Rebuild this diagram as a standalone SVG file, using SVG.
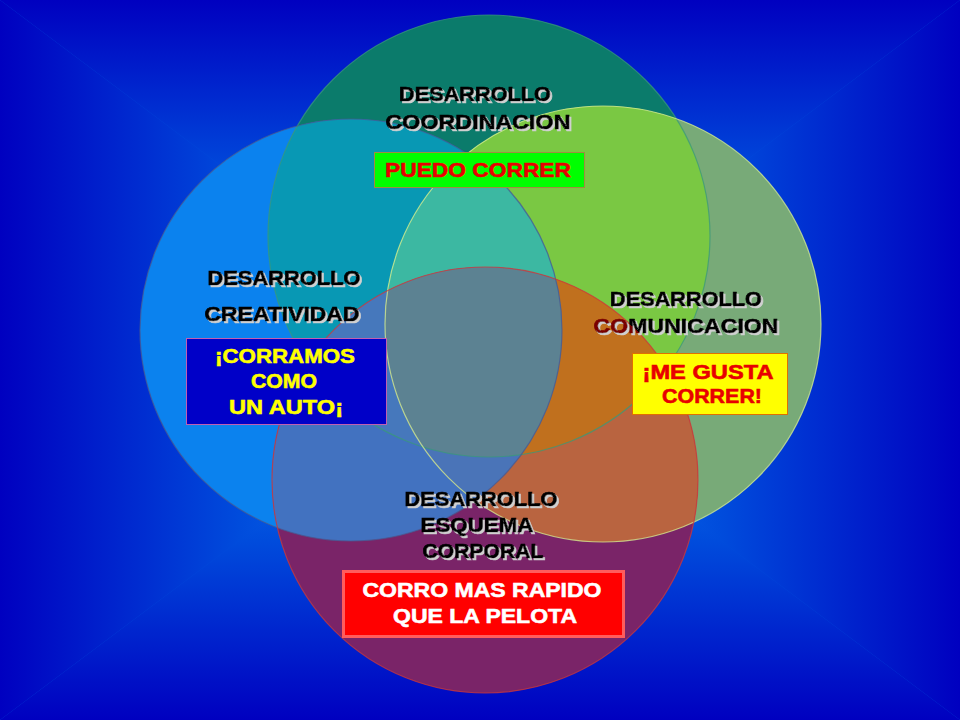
<svg xmlns="http://www.w3.org/2000/svg" width="960" height="720" viewBox="0 0 960 720">
<defs>
<style>
.lbl{font-family:"Liberation Sans",Arial,sans-serif;font-weight:bold;font-size:20.5px;fill:#000;stroke:#000;stroke-width:0.7;filter:url(#sh)}
.box{font-family:"Liberation Sans",Arial,sans-serif;font-weight:bold;font-size:21px;stroke-width:0.6}
.edge{fill:none;stroke-width:1.2;stroke-opacity:0.75}
</style>
<filter id="sh" x="-5%" y="-30%" width="115%" height="170%">
<feOffset in="SourceAlpha" dx="2" dy="2" result="o"/>
<feFlood flood-color="#d0d0d0"/>
<feComposite in2="o" operator="in" result="s"/>
<feMerge><feMergeNode in="s"/><feMergeNode in="SourceGraphic"/></feMerge>
</filter>
<linearGradient id="gTop" gradientUnits="userSpaceOnUse" x1="0" y1="0" x2="0" y2="360"><stop offset="0" stop-color="#0000c0"/><stop offset="0.5" stop-color="#004cdc"/><stop offset="1" stop-color="#1688fa"/></linearGradient>
<linearGradient id="gBot" gradientUnits="userSpaceOnUse" x1="0" y1="720" x2="0" y2="360"><stop offset="0" stop-color="#0000c0"/><stop offset="0.5" stop-color="#004cdc"/><stop offset="1" stop-color="#1688fa"/></linearGradient>
<linearGradient id="gLft" gradientUnits="userSpaceOnUse" x1="0" y1="0" x2="480" y2="0"><stop offset="0" stop-color="#0000c0"/><stop offset="0.5" stop-color="#004cdc"/><stop offset="1" stop-color="#1688fa"/></linearGradient>
<linearGradient id="gRgt" gradientUnits="userSpaceOnUse" x1="960" y1="0" x2="480" y2="0"><stop offset="0" stop-color="#0000c0"/><stop offset="0.5" stop-color="#004cdc"/><stop offset="1" stop-color="#1688fa"/></linearGradient>
<linearGradient id="gCom" gradientUnits="userSpaceOnUse" x1="617" y1="342" x2="647" y2="310"><stop offset="0.5" stop-color="#7a0000"/><stop offset="0.5" stop-color="#000"/></linearGradient>
<circle id="T" cx="489" cy="236" r="221"/>
<circle id="L" cx="351" cy="330" r="211"/>
<circle id="R" cx="603" cy="324" r="218"/>
<circle id="B" cx="485" cy="480" r="213"/>
<clipPath id="cT"><use href="#T"/></clipPath>
<clipPath id="cL"><use href="#L"/></clipPath>
<clipPath id="cR"><use href="#R"/></clipPath>
<clipPath id="cB"><use href="#B"/></clipPath>
</defs>

<g id="background">
<rect width="960" height="720" fill="#004cdc"/>
<polygon points="0,0 960,0 480,360" fill="url(#gTop)"/>
<polygon points="0,720 960,720 480,360" fill="url(#gBot)"/>
<polygon points="0,0 0,720 480,360" fill="url(#gLft)"/>
<polygon points="960,0 960,720 480,360" fill="url(#gRgt)"/>
</g>

<g id="venn">
<use href="#T" fill="#0b7b6b"/>
<use href="#L" fill="#0b82ee"/>
<use href="#R" fill="#78aa78"/>
<use href="#B" fill="#7a2468"/>
<g clip-path="url(#cT)"><use href="#L" fill="#0898b4"/></g>
<g clip-path="url(#cT)"><use href="#R" fill="#7ac843"/></g>
<g clip-path="url(#cT)"><use href="#B" fill="#6a7a80"/></g>
<g clip-path="url(#cL)"><use href="#R" fill="#3ca6b0"/></g>
<g clip-path="url(#cL)"><use href="#B" fill="#4272c0"/></g>
<g clip-path="url(#cR)"><use href="#B" fill="#b96440"/></g>
<g clip-path="url(#cT)"><g clip-path="url(#cL)"><use href="#R" fill="#3cb8a2"/></g></g>
<g clip-path="url(#cT)"><g clip-path="url(#cL)"><use href="#B" fill="#4678bc"/></g></g>
<g clip-path="url(#cT)"><g clip-path="url(#cR)"><use href="#B" fill="#c0701e"/></g></g>
<g clip-path="url(#cL)"><g clip-path="url(#cR)"><use href="#B" fill="#4a74b8"/></g></g>
<g clip-path="url(#cT)"><g clip-path="url(#cL)"><g clip-path="url(#cR)"><use href="#B" fill="#5c8292"/></g></g></g>
<use href="#T" class="edge" stroke="#3a9a7a"/>
<use href="#L" class="edge" stroke="#4a5a90"/>
<use href="#R" class="edge" stroke="#d8f090"/>
<use href="#B" class="edge" stroke="#d03838"/>
</g>

<g id="coordinacion">
<text class="lbl" x="475" y="101" text-anchor="middle" textLength="152" lengthAdjust="spacingAndGlyphs">DESARROLLO</text>
<text class="lbl" x="478" y="129" text-anchor="middle" textLength="185" lengthAdjust="spacingAndGlyphs">COORDINACION</text>
<rect x="374.5" y="152.5" width="210" height="35" fill="#00ff00" stroke="#a08c40"/>
<text class="box" x="478" y="177" text-anchor="middle" fill="#e80000" stroke="#e80000" textLength="186" lengthAdjust="spacingAndGlyphs">PUEDO CORRER</text>
</g>

<g id="creatividad">
<text class="lbl" x="284" y="285" text-anchor="middle" textLength="153" lengthAdjust="spacingAndGlyphs">DESARROLLO</text>
<text class="lbl" x="282" y="321" text-anchor="middle" textLength="155" lengthAdjust="spacingAndGlyphs">CREATIVIDAD</text>
<rect x="186.5" y="338.5" width="200" height="86" fill="#0000c8" stroke="#c060b0"/>
<text class="box" x="285" y="363" text-anchor="middle" fill="#ffff00" stroke="#ffff00" textLength="140" lengthAdjust="spacingAndGlyphs">¡CORRAMOS</text>
<text class="box" x="284" y="388" text-anchor="middle" fill="#ffff00" stroke="#ffff00" textLength="66" lengthAdjust="spacingAndGlyphs">COMO</text>
<text class="box" x="286" y="414" text-anchor="middle" fill="#ffff00" stroke="#ffff00" textLength="114" lengthAdjust="spacingAndGlyphs">UN AUTO¡</text>
</g>

<g id="comunicacion">
<text class="lbl" x="686" y="306" text-anchor="middle" textLength="152" lengthAdjust="spacingAndGlyphs">DESARROLLO</text>
<text class="lbl" x="686" y="333" text-anchor="middle" textLength="185" lengthAdjust="spacingAndGlyphs" style="fill:url(#gCom);stroke:url(#gCom)">COMUNICACION</text>
<rect x="632.5" y="353.5" width="155" height="61" fill="#ffff00" stroke="#e07000"/>
<text class="box" x="708" y="379" text-anchor="middle" fill="#e80000" stroke="#e80000" textLength="131" lengthAdjust="spacingAndGlyphs">¡ME GUSTA</text>
<text class="box" x="712" y="403" text-anchor="middle" fill="#e80000" stroke="#e80000" textLength="100" lengthAdjust="spacingAndGlyphs">CORRER!</text>
</g>

<g id="esquema-corporal">
<text class="lbl" x="481" y="506" text-anchor="middle" textLength="153" lengthAdjust="spacingAndGlyphs">DESARROLLO</text>
<text class="lbl" x="477" y="532" text-anchor="middle" textLength="113" lengthAdjust="spacingAndGlyphs">ESQUEMA</text>
<text class="lbl" x="483" y="558" text-anchor="middle" textLength="121" lengthAdjust="spacingAndGlyphs">CORPORAL</text>
<rect x="343.5" y="571.5" width="280" height="65" fill="#ff0000" stroke="#ff5c5c" stroke-width="3"/>
<text class="box" x="482" y="597" text-anchor="middle" fill="#ffffff" stroke="#ffffff" textLength="239" lengthAdjust="spacingAndGlyphs">CORRO MAS RAPIDO</text>
<text class="box" x="485" y="623" text-anchor="middle" fill="#ffffff" stroke="#ffffff" textLength="184" lengthAdjust="spacingAndGlyphs">QUE LA PELOTA</text>
</g>
</svg>
